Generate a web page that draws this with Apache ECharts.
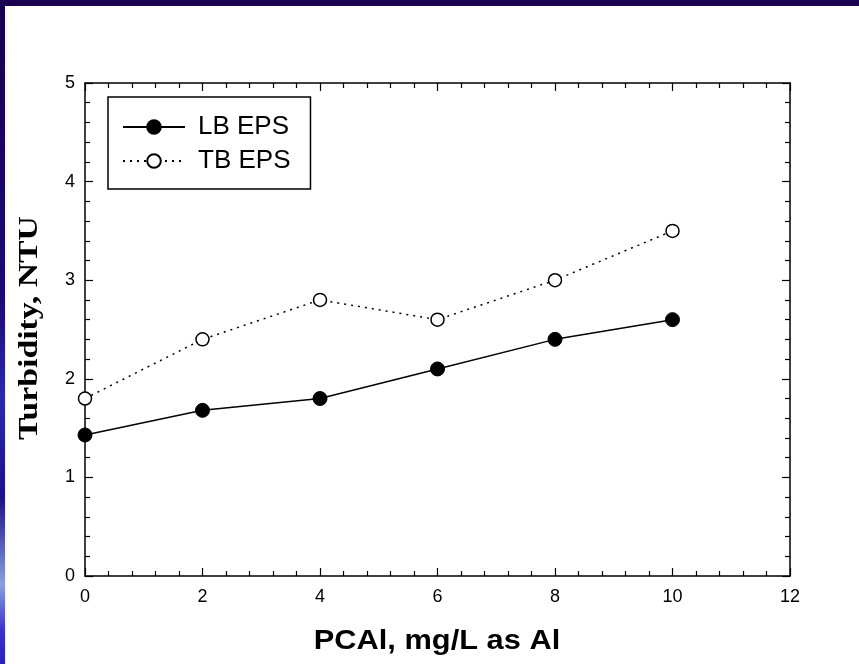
<!DOCTYPE html>
<html>
<head>
<meta charset="utf-8">
<script src="https://cdn.jsdelivr.net/npm/echarts@6/dist/echarts.min.js"></script>
<style>
  html, body { margin: 0; padding: 0; background: #fff; }
  #main { width: 859px; height: 664px; }
</style>
</head>
<body>
<div id="main"></div>
<script>
// dose of PCAl, mg/L as Al
var doses = [0, 2, 4, 6, 8, 10];
var lbEps = [1.43, 1.68, 1.8, 2.1, 2.4, 2.6];
var tbEps = [1.8, 2.4, 2.8, 2.6, 3.0, 3.5];
var xTicks = [0, 2, 4, 6, 8, 10, 12];
var yTicks = [0, 1, 2, 3, 4, 5];

var myChart = echarts.init(document.getElementById('main'));

function pairs(xs, ys) {
    var out = [];
    for (var i = 0; i < xs.length; i++) {
        out.push([xs[i], ys[i]]);
    }
    return out;
}

var tickStyle = { color: '#000', width: 1.2 };

function xAxisOf(pos, showLabels) {
    return {
        type: 'value',
        position: pos,
        min: xTicks[0],
        max: xTicks[xTicks.length - 1],
        interval: 2,
        axisLine: { show: true, onZero: false, lineStyle: { color: '#000', width: 1.5 } },
        axisTick: { show: true, inside: true, length: 8, lineStyle: tickStyle },
        minorTick: { show: true, splitNumber: 5, length: 5, lineStyle: tickStyle },
        splitLine: { show: false },
        axisLabel: { show: showLabels, color: '#000', fontSize: 18, fontFamily: 'Liberation Sans, Arial', margin: 12 }
    };
}

function yAxisOf(pos, showLabels) {
    return {
        type: 'value',
        position: pos,
        min: yTicks[0],
        max: yTicks[yTicks.length - 1],
        interval: 1,
        axisLine: { show: true, onZero: false, lineStyle: { color: '#000', width: 1.5 } },
        axisTick: { show: true, inside: true, length: 8, lineStyle: tickStyle },
        minorTick: { show: true, splitNumber: 5, length: 5, lineStyle: tickStyle },
        splitLine: { show: false },
        axisLabel: { show: showLabels, color: '#000', fontSize: 18, fontFamily: 'Liberation Sans, Arial', margin: 10 }
    };
}

var option = {
    backgroundColor: '#fff',
    animation: false,
    graphic: [
        { type: 'rect', left: 0, top: 0, shape: { width: 859, height: 6 }, style: { fill: '#1a0050' } },
        {
            type: 'rect', left: 0, top: 0, shape: { width: 5, height: 664 },
            style: {
                fill: new echarts.graphic.LinearGradient(0, 0, 0, 1, [
                    { offset: 0, color: '#1a0050' },
                    { offset: 0.45, color: '#1c0a78' },
                    { offset: 0.6, color: '#2a2ab0' },
                    { offset: 0.75, color: '#1a108a' },
                    { offset: 0.88, color: '#8aa0e0' },
                    { offset: 0.95, color: '#3a30d0' },
                    { offset: 1, color: '#2a20c0' }
                ])
            }
        },
        {
            // y axis title, stretched along its length like the original
            type: 'text',
            x: 30,
            y: 328,
            rotation: Math.PI / 2,
            scaleX: 1.25,
            style: {
                text: 'Turbidity, NTU',
                fill: '#000',
                font: 'bold 27px "Liberation Serif", "Times New Roman", serif',
                align: 'center',
                verticalAlign: 'middle'
            }
        },
        {
            // x axis title
            type: 'text',
            x: 437,
            y: 641,
            scaleX: 1.1,
            style: {
                text: 'PCAl, mg/L as Al',
                fill: '#000',
                font: 'bold 28px "Liberation Sans", Arial, sans-serif',
                align: 'center',
                verticalAlign: 'middle'
            }
        }
    ],
    grid: { left: 85, right: 69, top: 83, bottom: 88, containLabel: false },
    legend: {
        orient: 'vertical',
        left: 108,
        top: 97,
        padding: [17, 20, 15, 14],
        itemGap: 8,
        itemWidth: 62,
        itemHeight: 17,
        borderColor: '#000',
        borderWidth: 1.5,
        borderRadius: 0,
        backgroundColor: '#fff',
        textStyle: { color: '#000', fontSize: 26, fontFamily: 'Liberation Sans, Arial', padding: [0, 0, 0, 8] },
        data: ['LB EPS', 'TB EPS']
    },
    xAxis: [xAxisOf('bottom', true), xAxisOf('top', false)],
    yAxis: [yAxisOf('left', true), yAxisOf('right', false)],
    series: [
        {
            name: 'LB EPS',
            type: 'line',
            data: pairs(doses, lbEps),
            symbol: 'circle',
            symbolSize: 14,
            itemStyle: { color: '#000', borderColor: '#000', borderWidth: 1 },
            lineStyle: { color: '#000', width: 1.5, type: 'solid' }
        },
        {
            name: 'TB EPS',
            type: 'line',
            data: pairs(doses, tbEps),
            symbol: 'circle',
            symbolSize: 13,
            itemStyle: { color: '#fff', borderColor: '#000', borderWidth: 1.5 },
            lineStyle: { color: '#000', width: 1.5, type: [2, 5] }
        }
    ]
};

myChart.setOption(option);
</script>
</body>
</html>
